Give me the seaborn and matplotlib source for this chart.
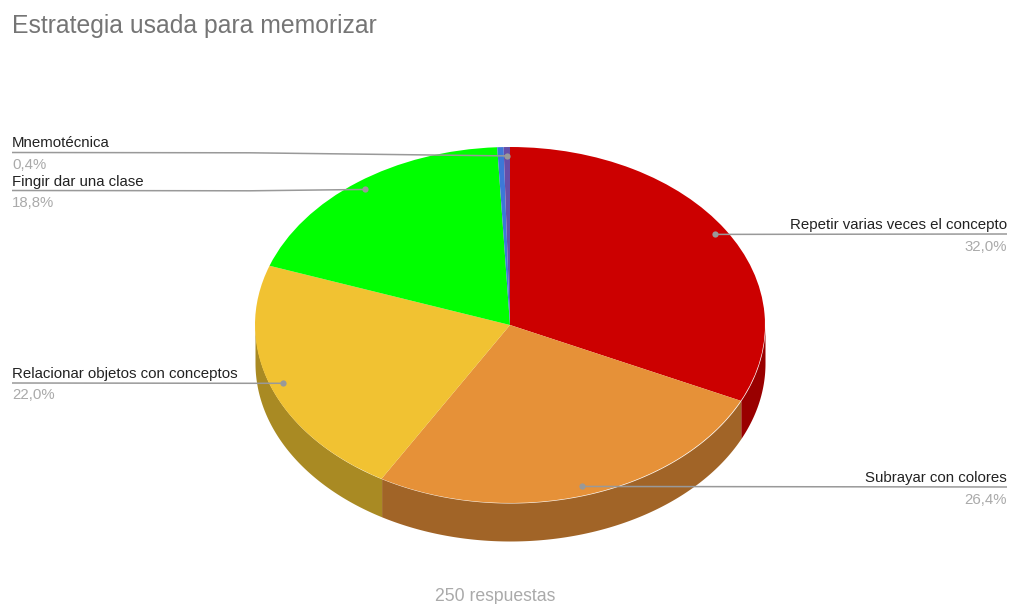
import numpy as np
import seaborn as sns
import matplotlib.pyplot as plt

W, H = 1009, 604

categories = ['Repetir varias veces el concepto', 'Subrayar con colores',
              'Relacionar objetos con conceptos', 'Fingir dar una clase',
              'Otros', 'Mnemotécnica']
values = [32.0, 26.4, 22.0, 18.8, 0.4, 0.4]
pie_colors = ['#cc0000', '#e69138', '#f1c232', '#00ff00', '#3c78d8', '#674ea7']
side_colors = ['#990000', '#a16427', '#a98a23', '#00b300', '#2a5497', '#483675']
title = 'Estrategia usada para memorizar'
footer = '250 respuestas'

# pie geometry in pixels of the figure
cx, cy, rx, ry, depth = 510, 325, 255, 178, 38

sns.set_theme(style='white')
plt.rcParams['font.family'] = ['Liberation Sans', 'DejaVu Sans']

fig = plt.figure(figsize=(W / 100, H / 100), dpi=100, facecolor='white')
ax = fig.add_axes([0, 0, 1, 1])


def px(x, y):
    return (x - cx) / rx, (cy - y) / ry


# side wall first, the top of the pie covers it
fracs = np.array(values) / sum(values)
edges = np.concatenate([[0], np.cumsum(fracs)]) * 2 * np.pi
for i, col in enumerate(side_colors):
    lo, hi = max(edges[i], np.pi / 2), min(edges[i + 1], 3 * np.pi / 2)
    if hi <= lo:
        continue
    t = np.linspace(lo, hi, 200)
    ax.fill_between(np.sin(t), np.cos(t), np.cos(t) - depth / ry,
                    color=col, lw=0)

ax.pie(values, colors=pie_colors, startangle=90, counterclock=False, radius=1,
       frame=True, wedgeprops={'linewidth': 0})
ax.set_aspect('auto')
ax.set_xlim(px(0, 0)[0], px(W, 0)[0])
ax.set_ylim(px(0, H)[1], px(0, 0)[1])
ax.set_axis_off()

# name baseline, line height at the label end, percent baseline
labels = {
    'Repetir varias veces el concepto': (229, 234, 251, 'right'),
    'Subrayar con colores': (482, 487, 504, 'right'),
    'Relacionar objetos con conceptos': (378, 383, 399, 'left'),
    'Fingir dar una clase': (186, 190.5, 207, 'left'),
    'Mnemotécnica': (147, 152.5, 169, 'left'),
}
mids = (edges[:-1] + edges[1:]) / 2
for name, val, mid in zip(categories, values, mids):
    if name not in labels:
        continue
    base, line_y, pct_y, side = labels[name]
    dx, dy = 0.95 * np.sin(mid), 0.95 * np.cos(mid)
    if side == 'right':
        xs = [dx, px(1007, 0)[0]]
        ys = [dy, px(0, line_y)[1]]
    else:
        xs = [px(12, 0)[0], px(250, 0)[0], dx]
        ys = [px(0, line_y)[1], px(0, line_y + 0.3)[1], dy]
    ax.plot(xs, ys, color='#999999', lw=1.1, solid_capstyle='butt', zorder=5)
    ax.plot([dx], [dy], 'o', ms=4.5, mfc='#999999', mec='none', zorder=6)
    tx = 1007 if side == 'right' else 12
    ax.text(*px(tx, base), name, ha=side, va='baseline', fontsize=10.8,
            color='#222222')
    ax.text(*px(tx, pct_y), f'{val:.1f}%'.replace('.', ','), ha=side,
            va='baseline', fontsize=10.8, color='#aaaaaa')

ax.text(*px(12, 33), title, ha='left', va='baseline', fontsize=17.85,
        color='#757575')
ax.text(*px(495.5, 601), footer, ha='center', va='baseline', fontsize=12.7,
        color='#aaaaaa')

fig.savefig('out.png', dpi=100, facecolor='white')
